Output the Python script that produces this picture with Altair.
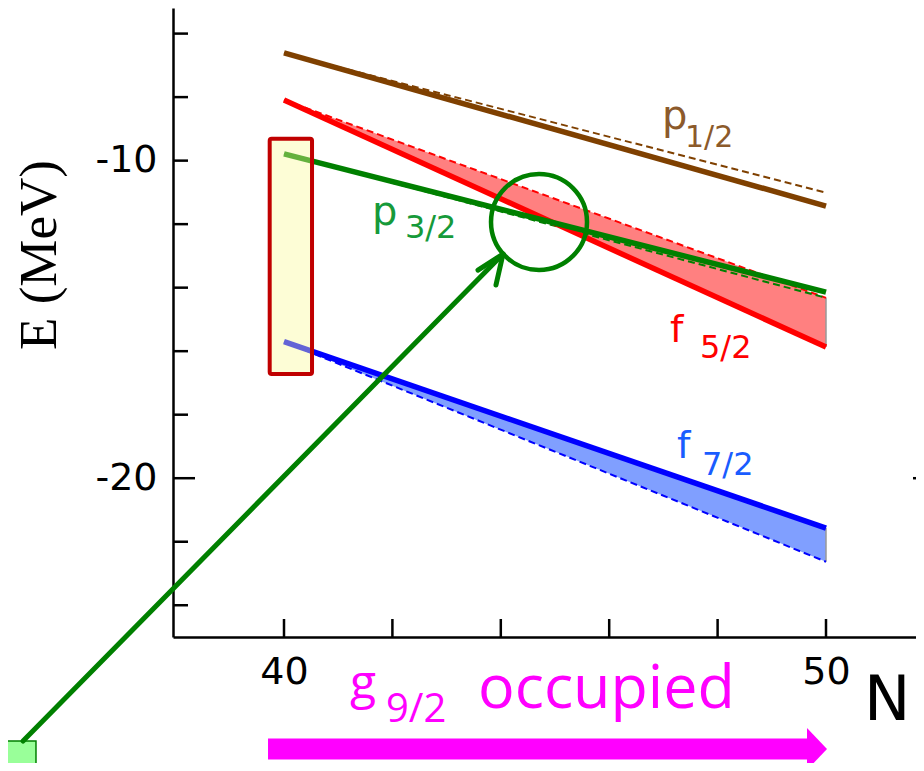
import altair as alt
import pandas as pd

# ---------------- data ----------------
N_ends = [40, 50]
levels = ["p1/2", "f5/2", "p3/2", "f7/2"]
solid_E = {"p1/2": [-6.61, -11.43], "f5/2": [-8.09, -15.87],
           "p3/2": [-9.79, -14.14], "f7/2": [-15.70, -21.57]}
dashed_E = {"p1/2": [-6.61, -11.01], "f5/2": [-8.09, -14.32],
            "p3/2": [-9.79, -14.32], "f7/2": [-15.70, -22.63]}
line_colors = {"p1/2": "#7f4000", "f5/2": "#ff0000", "p3/2": "#008000", "f7/2": "#0000ff"}
filled_levels = ["f5/2", "f7/2"]
fill_colors = {"f5/2": "#ff8080", "f7/2": "#809fff"}

y_tick_values = [-24, -22, -20, -18, -16, -14, -12, -10, -8, -6]
x_tick_values = [40, 42, 44, 46, 48, 50]
y_label_values = [-10, -20]
x_label_values = [40, 50]

# ---------------- scales ----------------
PX_X = 54.2
X_MIN = 37.952
W, H = 743, 629
X_MAX = X_MIN + W / PX_X
Y_MIN, Y_MAX = -25.0, -5.194
PX_Y = H / (Y_MAX - Y_MIN)

xs = alt.Scale(domain=[X_MIN, X_MAX], nice=False, zero=False)
ys = alt.Scale(domain=[Y_MIN, Y_MAX], nice=False, zero=False)
xaxis = alt.Axis(values=x_label_values, ticks=False, tickSize=0, grid=False, title=None,
                 labelFont="DejaVu Sans", labelFontSize=38, labelColor="black",
                 labelPadding=16, domainColor="black", domainWidth=2.5,
                 labelExpr="'' + datum.value")
yaxis = alt.Axis(values=y_label_values, ticks=False, tickSize=0, grid=False, title=None,
                 labelFont="DejaVu Sans", labelFontSize=38, labelColor="black",
                 labelPadding=16, domainColor="black", domainWidth=2.5,
                 labelExpr="'' + datum.value")


def X(f):
    return alt.X(f, type="quantitative", scale=xs, axis=xaxis)


def Y(f):
    return alt.Y(f, type="quantitative", scale=ys, axis=yaxis)


NOLEG = dict(scale=None, legend=None)

# ---------------- tables ----------------
rows = []
for lv in levels:
    for i, n in enumerate(N_ends):
        rows.append({"level": lv, "N": n, "Es": solid_E[lv][i], "Ed": dashed_E[lv][i],
                     "col": line_colors[lv], "fcol": fill_colors.get(lv, "#ffffff")})
lines = pd.DataFrame(rows)
fills = lines[lines.level.isin(filled_levels)]

layers = []
layers.append(alt.Chart(fills).mark_area(opacity=1).encode(
    x=X("N"), y=Y("Es"), y2="Ed",
    color=alt.Color("fcol:N", **NOLEG), detail="level:N"))

edge = fills[fills.N == N_ends[-1]]
layers.append(alt.Chart(edge).mark_rule(color="#999999", strokeWidth=1.5).encode(
    x=X("N"), y=Y("Es"), y2="Ed"))

layers.append(alt.Chart(lines).mark_line(strokeWidth=2, strokeDash=[7, 4]).encode(
    x=X("N"), y=Y("Ed"), color=alt.Color("col:N", **NOLEG), detail="level:N"))

order = ["f5/2", "p1/2", "f7/2", "p3/2"]
for lv in order:
    layers.append(alt.Chart(lines[lines.level == lv]).mark_line(
        strokeWidth=5.5, color=line_colors[lv], strokeCap="butt").encode(x=X("N"), y=Y("Es")))

# ---------------- axis tick marks (inward) ----------------
tk = []
for v in y_tick_values:
    L = 22 if v == -20 else 15
    tk.append({"x": X_MIN, "x2": X_MIN + L / PX_X, "y": v, "y2": v})
tk.append({"x": X_MAX - 3 / PX_X, "x2": X_MAX, "y": -20, "y2": -20})
for v in x_tick_values:
    tk.append({"x": v, "x2": v, "y": Y_MIN, "y2": Y_MIN + 18 / PX_Y})
ticks = pd.DataFrame(tk)
layers.append(alt.Chart(ticks).mark_rule(color="black", strokeWidth=2.5).encode(
    x=X("x"), x2="x2", y=Y("y"), y2="y2"))

# ---------------- annotations ----------------
box = pd.DataFrame([{"x": 39.736, "x2": 40.517, "y": -9.310, "y2": -16.719}])
layers.append(alt.Chart(box).mark_rect(fill="#fafa98", fillOpacity=0.4, stroke="#c00000",
                                       strokeOpacity=1, strokeWidth=4, cornerRadius=2).encode(
    x=X("x"), x2="x2", y=Y("y"), y2="y2"))

circ = pd.DataFrame([{"x": 44.705, "y": -11.933}])
layers.append(alt.Chart(circ).mark_point(shape="circle", size=9216, filled=False,
                                         stroke="#008000", strokeWidth=4.5, opacity=1).encode(
    x=X("x"), y=Y("y")))

sq = pd.DataFrame([{"x": 34.760, "x2": 35.424, "y": -28.275, "y2": -29.5}])
layers.append(alt.Chart(sq).mark_rect(fill="#99ff99", stroke="#008000", strokeWidth=1.5).encode(
    x=X("x"), x2="x2", y=Y("y"), y2="y2"))

garrow = pd.DataFrame([
    {"x": 35.185, "y": -28.275, "x2": 44.041, "y2": -12.941},
    {"x": 43.579, "y": -13.445, "x2": 44.041, "y2": -12.941},
    {"x": 43.911, "y": -13.917, "x2": 44.041, "y2": -12.941},
])
layers.append(alt.Chart(garrow).mark_rule(color="#008000", strokeWidth=5, strokeCap="round").encode(
    x=X("x"), x2="x2", y=Y("y"), y2="y2"))

marrow = pd.DataFrame([{"x": 39.705, "x2": 49.70, "y": -28.527}])
layers.append(alt.Chart(marrow).mark_rule(color="#ff00ff", strokeWidth=21, strokeCap="butt").encode(
    x=X("x"), x2="x2", y=Y("y")))
mhead = pd.DataFrame([{"x": 49.834, "y": -28.527}])
layers.append(alt.Chart(mhead).mark_point(shape="M-0.476,-1L0.476,0L-0.476,1Z", size=1764,
                                          filled=True, color="#ff00ff", opacity=1, strokeWidth=0).encode(
    x=X("x"), y=Y("y")))

# ---------------- texts ----------------
dv_texts = pd.DataFrame([
    {"t": "p", "x": 46.974, "y": -9.005, "s": 40, "c": "#8c5a2b"},
    {"t": "1/2", "x": 47.399, "y": -9.572, "s": 30, "c": "#8c5a2b"},
    {"t": "p", "x": 41.624, "y": -12.028, "s": 40, "c": "#169a3a"},
    {"t": "3/2", "x": 42.232, "y": -12.437, "s": 32, "c": "#169a3a"},
    {"t": "f", "x": 47.122, "y": -15.712, "s": 38, "c": "#ff0000"},
    {"t": "5/2", "x": 47.675, "y": -16.215, "s": 32, "c": "#ff0000"},
    {"t": "f", "x": 47.251, "y": -19.364, "s": 38, "c": "#1a5cff"},
    {"t": "7/2", "x": 47.712, "y": -19.899, "s": 32, "c": "#1a5cff"},
    {"t": "N", "x": 50.70, "y": -27.614, "s": 62, "c": "#000000"},
])
layers.append(alt.Chart(dv_texts).mark_text(font="DejaVu Sans", align="left", baseline="alphabetic").encode(
    x=X("x"), y=Y("y"), text="t:N",
    size=alt.Size("s:Q", scale=None, legend=None),
    color=alt.Color("c:N", scale=None, legend=None)))

occ_texts = pd.DataFrame([
    {"t": "g", "x": 41.218, "y": -26.953, "s": 48},
    {"t": "9/2", "x": 41.880, "y": -27.677, "s": 40},
    {"t": "occupied", "x": 43.579, "y": -27.236, "s": 61},
])
layers.append(alt.Chart(occ_texts).mark_text(font="Open Sans", align="left", baseline="alphabetic",
                                             color="#ff00ff").encode(
    x=X("x"), y=Y("y"), text="t:N", size=alt.Size("s:Q", scale=None, legend=None)))

title = pd.DataFrame([{"t": "E (MeV)", "x": 35.50, "y": -12.972}])
layers.append(alt.Chart(title).mark_text(font="Liberation Serif", fontSize=53, angle=270,
                                         align="center", baseline="middle", color="black").encode(
    x=X("x"), y=Y("y"), text="t:N"))

chart = alt.layer(*layers).properties(
    width=W, height=H,
    autosize=alt.AutoSizeParams(type="none"),
    padding={"left": 165, "top": 0, "right": 0, "bottom": 126},
    background="white",
).configure_view(stroke=None)

chart.save("out.html", embed_options={"renderer": "svg", "actions": False})
